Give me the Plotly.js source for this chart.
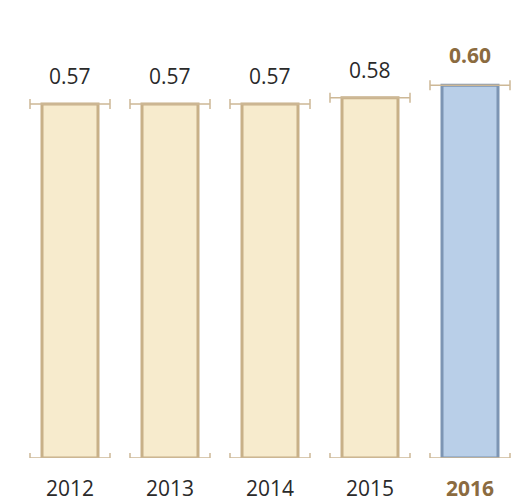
<!DOCTYPE html>
<html><head><meta charset="utf-8">
<script src="https://cdn.plot.ly/plotly-3.0.1.min.js"></script>
<style>html,body{margin:0;padding:0;background:#fff}#c{width:522px;height:503px}</style>
</head><body><div id="c"></div>
<script>
const years = ['2012','2013','2014','2015','2016'];
const values = [0.57, 0.57, 0.57, 0.58, 0.60];
const valueLabels = ['0.57','0.57','0.57','0.58','0.60'];
const highlight = [false, false, false, false, true];

const fill = highlight.map(h => h ? '#b9cfe8' : '#f7ebcd');
const edge = highlight.map(h => h ? '#7d95b3' : '#c8b088');
const idx = years.map((_, i) => i);

const traces = [
  {type:'bar', x: idx, y: values, width: 0.56,
   marker:{color: fill, line:{color: edge, width: 3}}, hoverinfo:'none'},
  {type:'scatter', mode:'markers', x: idx, y: values, marker:{size:0.1, color:'rgba(0,0,0,0)'},
   error_x:{type:'constant', value:0.40, color:'#cdb896', thickness:1.5, width:5}, hoverinfo:'none'},
  {type:'scatter', mode:'markers', x: idx, y: values.map(() => 0), marker:{size:0.1, color:'rgba(0,0,0,0)'},
   error_x:{type:'constant', value:0.40, color:'#cdb896', thickness:1.5, width:5}, hoverinfo:'none', cliponaxis:false}
];

const annotations = [];
idx.forEach(i => {
  const h = highlight[i];
  annotations.push({x: i, y: values[i], xref:'x', yref:'y', yanchor:'bottom', yshift: h ? 14 : 12, showarrow:false,
    text: h ? '<b>' + valueLabels[i] + '</b>' : valueLabels[i],
    font:{family:'Open Sans, Liberation Sans, sans-serif', size:21, color: h ? '#8b6b40' : '#2a2a2a'}});
  annotations.push({x: i, y: 0, xref:'x', yref:'paper', yanchor:'middle', yshift:-30, showarrow:false,
    borderpad:0,
    text: h ? '<b>' + years[i] + '</b>' : years[i],
    font:{family:'Open Sans, Liberation Sans, sans-serif', size:21, color: h ? '#8b6b40' : '#2a2a2a'}});
});

Plotly.newPlot('c', traces, {
  width:522, height:503, showlegend:false,
  margin:{l:20, r:2, t:30, b:45},
  paper_bgcolor:'#fff', plot_bgcolor:'#fff',
  xaxis:{range:[-0.5,4.5], visible:false, fixedrange:true},
  yaxis:{range:[0,0.689], visible:false, fixedrange:true},
  annotations: annotations
}, {staticPlot:true, displayModeBar:false});
</script></body></html>
